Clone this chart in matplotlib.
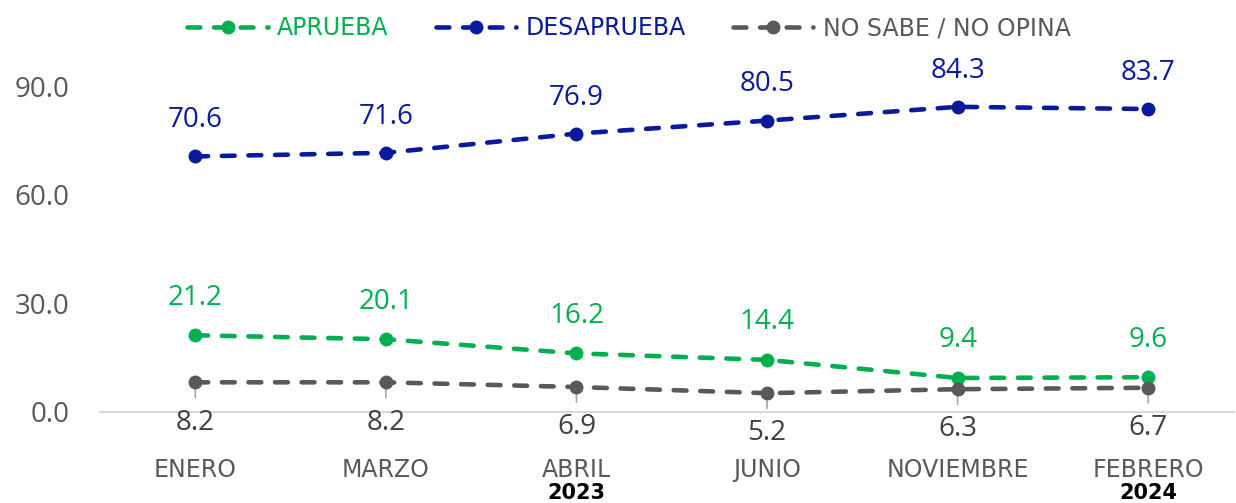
import matplotlib
matplotlib.use("Agg")
import matplotlib.pyplot as plt
from matplotlib.lines import Line2D

months = ["ENERO", "MARZO", "ABRIL", "JUNIO", "NOVIEMBRE", "FEBRERO"]
years = ["", "", "2023", "", "", "2024"]
aprueba = [21.2, 20.1, 16.2, 14.4, 9.4, 9.6]
desaprueba = [70.6, 71.6, 76.9, 80.5, 84.3, 83.7]
nsno = [8.2, 8.2, 6.9, 5.2, 6.3, 6.7]
yticks = [0, 30, 60, 90]

GREEN = "#00B050"
BLUE = "#0A1A9E"
GRAY = "#595959"

W, H = 1236, 503
fig = plt.figure(figsize=(W / 100, H / 100), dpi=100)
ax = fig.add_axes([100 / W, (H - 412) / H, (1234 - 100) / W, (412 - 50) / H])

x = list(range(len(months)))
series = [
    ("APRUEBA", aprueba, GREEN),
    ("DESAPRUEBA", desaprueba, BLUE),
    ("NO SABE / NO OPINA", nsno, GRAY),
]
for name, vals, col in series:
    ax.plot(x, vals, color=col, lw=3.3, ls=(0, (2.8, 3.0)), dash_capstyle="round",
            marker="o", ms=9, zorder=3)

numfont = "Open Sans"
for i, v in enumerate(aprueba):
    ax.annotate(f"{v:.1f}", (i, v), xytext=(0, 27), textcoords="offset points",
                ha="center", va="center", color=GREEN, fontsize=20, family=numfont)
for i, v in enumerate(desaprueba):
    ax.annotate(f"{v:.1f}", (i, v), xytext=(0, 26), textcoords="offset points",
                ha="center", va="center", color=BLUE, fontsize=20, family=numfont)
for i, v in enumerate(nsno):
    ax.annotate("", (i, v), xytext=(0, -11), textcoords="offset points",
                arrowprops=dict(arrowstyle="-", color="#A6A6A6", lw=1.2,
                                shrinkA=0, shrinkB=0), zorder=2)
    ax.annotate(f"{v:.1f}", (i, v), xytext=(0, -29), textcoords="offset points",
                ha="center", va="center", color="#404040", fontsize=20, family=numfont)

ax.set_xlim(-0.5, 5.45)
ax.set_ylim(0, 100)
ax.set_yticks(yticks)
ax.set_yticklabels([f"{t:.1f}" for t in yticks], color=GRAY, fontsize=20, family=numfont)
ax.set_xticks(x)
ax.set_xticklabels(months, color=GRAY, fontsize=17, family="DejaVu Sans")
ax.tick_params(axis="both", length=0)
ax.tick_params(axis="x", pad=33)
ax.tick_params(axis="y", pad=22)
for s in ["top", "right", "left"]:
    ax.spines[s].set_visible(False)
ax.spines["bottom"].set_color("#D9D9D9")
ax.spines["bottom"].set_linewidth(1.5)

for i, yr in enumerate(years):
    if yr:
        ax.annotate(yr, (i, 0), xycoords=("data", "data"), xytext=(0, -58),
                    textcoords="offset points", ha="center", va="center",
                    fontsize=15, fontweight="bold", color="black", family="DejaVu Sans")

handles = [Line2D([], [], color=c, lw=3.3, ls=(0, (2.8, 3.0)), dash_capstyle="round",
                  marker="o", ms=9) for _, _, c in series]
leg = fig.legend(handles, [s[0] for s in series], loc="center",
                 bbox_to_anchor=(629 / W, 1 - 28 / H), ncol=3, frameon=False,
                 fontsize=17, handlelength=3.4, columnspacing=2.0, handletextpad=0.4)
for t, (_, _, c) in zip(leg.get_texts(), series):
    t.set_color(c)

fig.savefig("out.png", dpi=100)
